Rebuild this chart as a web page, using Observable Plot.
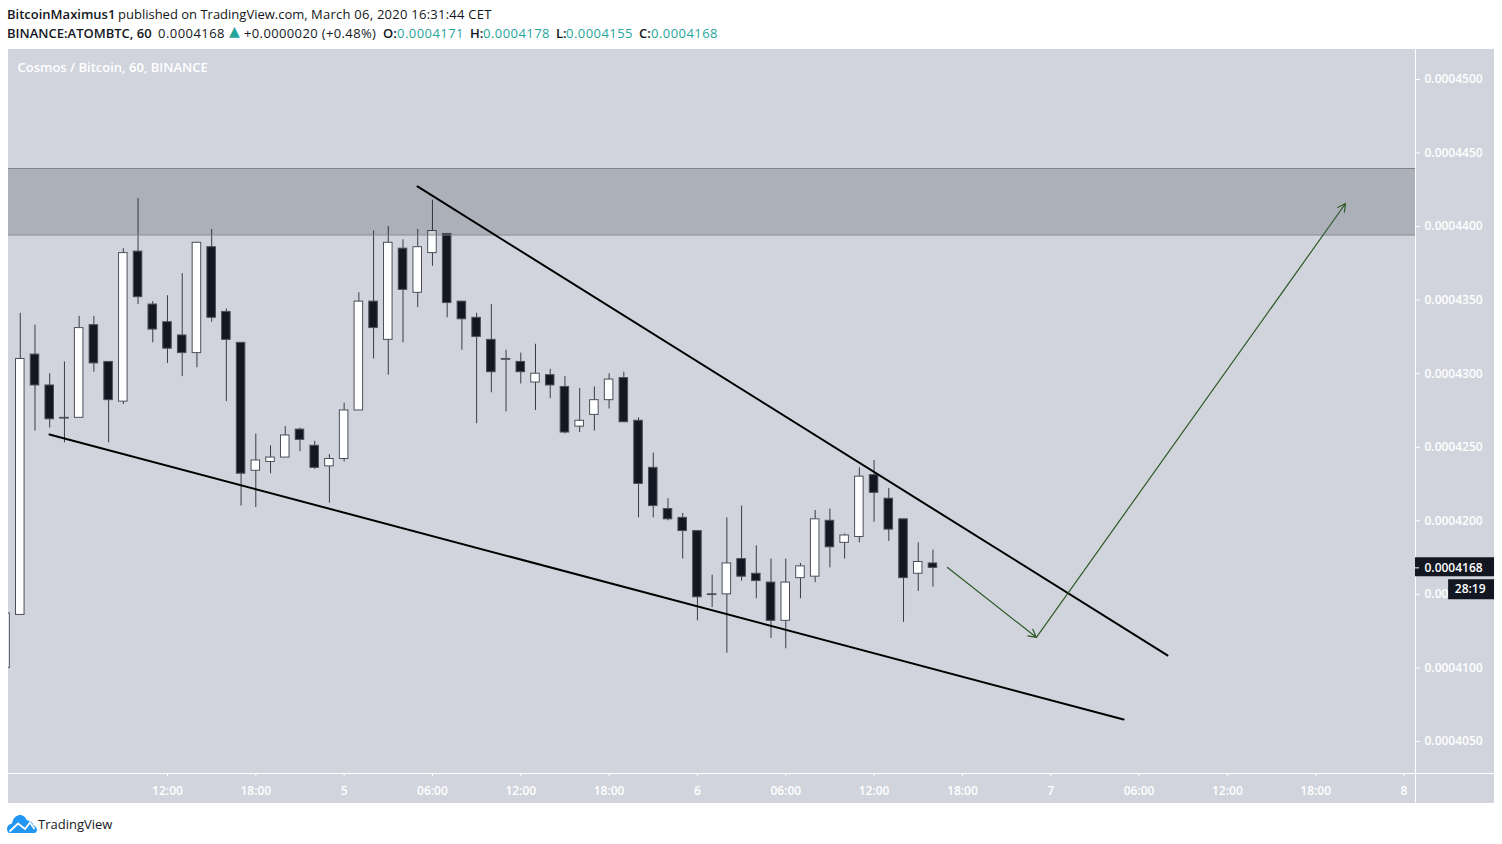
<!DOCTYPE html>
<html>
<head>
<meta charset="utf-8">
<script src="https://cdn.jsdelivr.net/npm/d3@7"></script>
<script src="https://cdn.jsdelivr.net/npm/@observablehq/plot@0.6"></script>
<style>
  html, body { margin: 0; padding: 0; background: #fff; }
  body { width: 1502px; height: 844px; overflow: hidden; font-family: "Open Sans", sans-serif; color: #131722; position: relative; }
  #head { height: 49px; position: relative; font-size: 13px; }
  .ln { position: absolute; left: 0; right: 0; height: 19px; }
  .ln span { position: absolute; white-space: pre; top: 0; }
  #l1 { top: 5px; } #l2 { top: 24px; }
  .b { font-weight: 600; }
  .t { color: #26a69a; }
  .n { letter-spacing: 0.45px; }
  #chart { margin-left: 8px; height: 754px; }
  #chart svg { display: block; }
  #foot { position: absolute; left: 7px; top: 815px; display: flex; align-items: center; font-size: 13px; height: 18px; }
</style>
</head>
<body>
<div id="head">
  <div class="ln" id="l1"><span class="b" style="left:7px">BitcoinMaximus1</span><span style="left:118px">published on TradingView.com,</span><span style="left:311px;letter-spacing:.25px">March 06, 2020 16:31:44 CET</span></div>
  <div class="ln" id="l2"><span class="b" style="left:7px">BINANCE:ATOMBTC, 60</span><span class="n" style="left:158px">0.0004168</span><span class="t" style="left:229px;top:-1px;font-family:'DejaVu Sans';font-size:14px">▲</span><span style="left:244px;letter-spacing:.37px">+0.0000020 (+0.48%)</span><span class="b" style="left:383px">O:</span><span class="t n" style="left:397px">0.0004171</span><span class="b" style="left:470px">H:</span><span class="t n" style="left:483px">0.0004178</span><span class="b" style="left:556px">L:</span><span class="t n" style="left:566px">0.0004155</span><span class="b" style="left:639px">C:</span><span class="t n" style="left:651px">0.0004168</span></div>
</div>
<div id="chart"></div>
<div id="foot">
  <svg width="30" height="18" viewBox="0 0 30 18"><path d="M0 14 C0 11 2 9 5 8.5 C6 3.5 9 0 13 0 C16.5 0 19 2.5 20 5.5 C23.5 5.5 26 8 26.5 10.5 C28.5 11 30 13 30 15 C30 17 28.5 18 27 18 L3 18 C1 18 0 16 0 14Z" fill="#2196f3"/><path d="M2.5 16.5 L11 8.5 L18 14 L23 7.5 L27.5 14" fill="none" stroke="#fff" stroke-width="1.8"/></svg>
  <span style="margin-left:1px">TradingView</span>
</div>
<script>
// Prices are in units of 0.0000001 BTC. Candle i is the hourly bar at hour (firstHour + i), hours counted from 4 March 00:00.
const firstHour = 1;
const opens  = [4100,4136,4313,4292,4270,4270,4333,4308,4281,4383,4347,4335,4326,4314,4386,4342,4321,4234,4240,4243,4262,4251,4237,4242,4275,4349,4323,4385,4355,4382,4395,4349,4338,4323,4310,4308,4294,4299,4291,4264,4272,4282,4297,4268,4236,4208,4202,4193,4150,4150,4174,4164,4158,4132,4161,4162,4200,4185,4189,4231,4215,4201,4164,4171];
const closes = [4137,4310,4292,4269,4269.5,4331,4307,4282,4382,4352,4330,4317,4314,4389,4338,4323,4232,4241,4243,4258,4255,4236,4242,4275,4349,4331,4389,4357,4386,4397,4348,4337,4325,4301,4309.5,4301,4300,4292,4260,4268,4282,4296,4267,4225,4210,4201,4193,4148,4149.5,4171,4162,4159,4132,4158,4169,4201,4182,4190,4230,4219,4194,4161,4172,4168];
const highs  = [4137,4341,4333,4300,4308,4339,4339,4308,4385,4419,4349,4353,4368,4389,4398,4344,4321,4259,4251,4264,4263,4254,4245,4280,4355,4397,4400,4391,4398,4418,4395,4349,4341,4347,4316,4314,4320,4303,4298,4290,4291,4300,4301,4270,4246,4215,4205,4193,4163,4202,4210,4183,4174,4174,4171,4207,4208,4191,4236,4241,4222,4201,4185,4180];
const lows   = [4100,4136,4261,4263,4253,4270,4301,4253,4279,4347,4321,4307,4298,4304,4335,4281,4210,4209,4232,4243,4247,4235,4212,4240,4275,4310,4299,4321,4345,4373,4338,4316,4266,4287,4274,4293,4275,4283,4259,4260,4261,4276,4267,4202,4202,4200,4174,4132,4141,4110,4159,4147,4120,4113,4147,4158,4168,4174,4185,4199,4186,4131,4152,4155];

const zoneTop = 4439.5, zoneBottom = 4394.3;

// Drawn lines: hour, price
const lowerTrendHours = [3.98, 76.95],  lowerTrendPrices = [4258.7, 4064.9];
const upperTrendHours = [28.98, 79.93], upperTrendPrices = [4427.3, 4108.5];
const arrowHours  = [64.99, 71.03, 92.03];
const arrowPrices = [4168.3, 4120.7, 4415.7];

const tickHours  = [12,18,24,30,36,42,48,54,60,66,72,78,84,90,96];
const tickLabels = ["12:00","18:00","5","06:00","12:00","18:00","6","06:00","12:00","18:00","7","06:00","12:00","18:00","8"];
const priceTicks = [4050,4100,4150,4200,4250,4300,4350,4400,4450,4500];
const lastPrice = 4168;
const countdown = "28:19";
const seriesTitle = "Cosmos / Bitcoin, 60, BINANCE";

const xMin = 1.2, xAxisEdge = 96.78, xPanelEdge = 102.15;
const yMin = 4028.2, yMax = 4520.4, yPanelBottom = 4007.8;

const candles = opens.map((o, i) => ({h: firstHour + i, o, c: closes[i], hi: highs[i], lo: lows[i], up: closes[i] > o}));
const lower = lowerTrendHours.map((h, i) => ({h, p: lowerTrendPrices[i]}));
const upper = upperTrendHours.map((h, i) => ({h, p: upperTrendPrices[i]}));
const labelAt = new Map(tickHours.map((h, i) => [h, tickLabels[i]]));
const fmt = d => (d / 1e7).toFixed(7);
const FONT = '"Open Sans", sans-serif';
const DARK = "#131722", EDGE = "#4c4f5b", GREEN = "#2f5a26", AXIS = "#ffffff";
const halfBody = 0.29;

const plot = Plot.plot({
  width: 1486, height: 754,
  marginTop: 0, marginBottom: 30, marginLeft: 0, marginRight: 79,
  style: {background: "#d1d4dc", fontFamily: FONT, overflow: "visible"},
  x: {type: "linear", domain: [xMin, xAxisEdge], axis: null},
  y: {type: "linear", domain: [yMin, yMax], axis: null},
  marks: [
    Plot.ruleX(candles, {x: "h", y1: "lo", y2: "hi", stroke: DARK, strokeOpacity: 0.8, strokeWidth: 1, clip: true}),
    Plot.rect(candles, {
      x1: d => d.h - halfBody, x2: d => d.h + halfBody,
      y1: "o", y2: "c",
      fill: d => d.up ? "#ffffff" : DARK,
      stroke: EDGE, strokeWidth: 1, clip: true
    }),
    Plot.rect([0], {x1: xMin, x2: xAxisEdge, y1: zoneBottom, y2: zoneTop, fill: "#0f1424", fillOpacity: 0.19}),
    Plot.ruleY([zoneTop, zoneBottom], {x1: xMin, x2: xAxisEdge, stroke: "#808289", strokeWidth: 1}),
    Plot.line(lower, {x: "h", y: "p", stroke: "#000", strokeWidth: 2}),
    Plot.line(upper, {x: "h", y: "p", stroke: "#000", strokeWidth: 2}),
    Plot.arrow([0, 1], {
      x1: i => arrowHours[i], y1: i => arrowPrices[i],
      x2: i => arrowHours[i + 1], y2: i => arrowPrices[i + 1],
      stroke: GREEN, strokeWidth: 1.2, headLength: 11, headAngle: 55, bend: 0
    }),
    Plot.ruleX([xAxisEdge], {y1: yPanelBottom, y2: yMax, stroke: AXIS, strokeWidth: 1}),
    Plot.ruleY([yMin], {x1: xMin, x2: xPanelEdge, stroke: AXIS, strokeWidth: 1}),
    Plot.axisY({anchor: "right", ticks: priceTicks, tickFormat: fmt, tickSize: 4, tickPadding: 5, color: AXIS, stroke: AXIS, fontSize: 12, fontWeight: 600, label: null}),
    Plot.axisX({anchor: "bottom", ticks: tickHours, tickFormat: d => labelAt.get(d), tickSize: 3, tickPadding: 10, color: AXIS, stroke: AXIS, fontSize: 12, fontWeight: 600, label: null}),
    Plot.text([seriesTitle], {frameAnchor: "top-left", dx: 9, dy: 18, text: d => d, fill: AXIS, fontSize: 13, fontWeight: 600, lineAnchor: "middle"}),
    Plot.ruleY([lastPrice + 0.7], {x1: xAxisEdge, x2: xPanelEdge, stroke: DARK, strokeWidth: 19}),
    Plot.ruleY([lastPrice - 14.5], {x1: xAxisEdge + 2.25, x2: xPanelEdge, stroke: DARK, strokeWidth: 20}),
    Plot.ruleY([lastPrice], {x1: xAxisEdge, x2: xAxisEdge + 0.27, stroke: AXIS, strokeWidth: 1}),
    Plot.text([lastPrice], {x: xAxisEdge, y: d => d, text: fmt, dx: 9, textAnchor: "start", fill: AXIS, fontSize: 12, fontWeight: 600}),
    Plot.text([countdown], {x: xPanelEdge, y: lastPrice - 14.5, text: d => d, dx: -9, textAnchor: "end", fill: AXIS, fontSize: 12, fontWeight: 600})
  ]
});
document.getElementById("chart").append(plot);
</script>
</body>
</html>
